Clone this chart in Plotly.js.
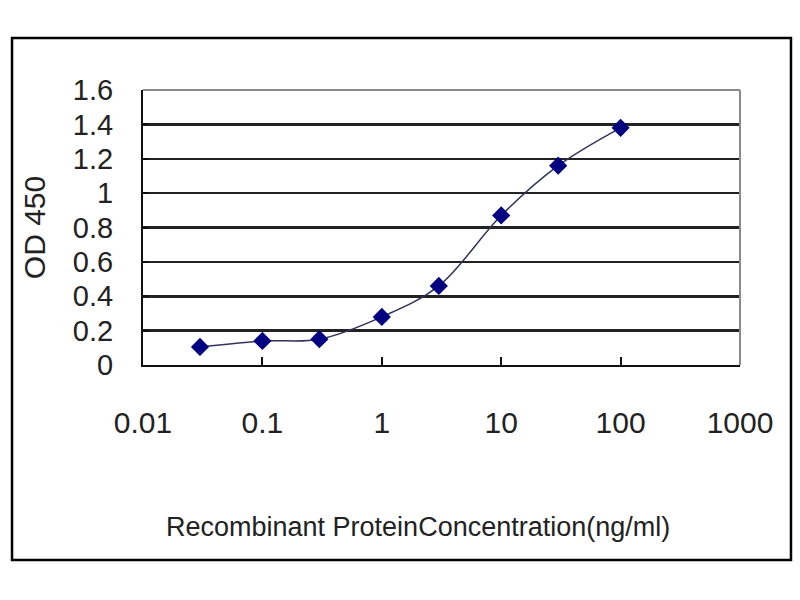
<!DOCTYPE html>
<html>
<head>
<meta charset="utf-8">
<script src="https://cdn.plot.ly/plotly-3.0.1.min.js"></script>
<style>html,body{margin:0;padding:0;background:#fff;}#chart{width:800px;height:600px;}</style>
</head>
<body>
<div id="chart"></div>
<script>
// Data
var concentration = [0.03, 0.1, 0.3, 1, 3, 10, 30, 100];
var od450 = [0.105, 0.14, 0.15, 0.28, 0.46, 0.87, 1.16, 1.38];
var xTickValues = [0.01, 0.1, 1, 10, 100, 1000];
var xTickLabels = ["0.01", "0.1", "1", "10", "100", "1000"];
var xTitle = "Recombinant ProteinConcentration(ng/ml)";
var yTitle = "OD 450";

var FONT = "Liberation Sans, Arial, sans-serif";

var trace = {
  x: concentration,
  y: od450,
  type: "scatter",
  mode: "lines+markers",
  line: {shape: "spline", smoothing: 1, color: "#33335a", width: 1.5},
  marker: {symbol: "diamond", size: 14, color: "#000080"},
  hoverinfo: "x+y"
};

var layout = {
  width: 800, height: 600,
  paper_bgcolor: "#ffffff", plot_bgcolor: "#ffffff",
  margin: {l: 143, r: 60, t: 90, b: 235},
  showlegend: false,
  font: {family: FONT, color: "#1a1a1a"},
  xaxis: {
    type: "log",
    range: [-2, 3],
    tickvals: xTickValues,
    ticktext: xTickLabels,
    ticks: "inside", ticklen: 8, tickwidth: 2, tickcolor: "#111",
    showline: true, linecolor: "#111", linewidth: 2,
    showgrid: false, zeroline: false,
    tickfont: {family: FONT, size: 30, color: "#222"},
    ticklabelstandoff: 30,
    automargin: false
  },
  yaxis: {
    range: [0, 1.6],
    dtick: 0.2,
    tick0: 0,
    ticks: "inside", ticklen: 6, tickwidth: 2, tickcolor: "#111",
    showline: true, linecolor: "#111", linewidth: 2,
    showgrid: true, gridcolor: "#222", gridwidth: 2.5,
    zeroline: false,
    tickfont: {family: FONT, size: 29, color: "#222"},
    ticklabelstandoff: 22,
    automargin: false,
    title: {text: yTitle, font: {family: FONT, size: 30, color: "#222"}, standoff: 18}
  },
  annotations: [
    {text: xTitle, xref: "paper", yref: "paper", x: 0.4606, y: -0.589,
     xanchor: "center", yanchor: "middle", showarrow: false,
     font: {family: FONT, size: 27, color: "#222"}}
  ],
  shapes: [
    // outer frame of the figure
    {type: "rect", xref: "paper", yref: "paper", x0: -0.2194, x1: 1.0854, y0: -0.709, y1: 1.189,
     line: {color: "#000", width: 2.5}, fillcolor: "rgba(0,0,0,0)", layer: "below"},
    // plot area border (top / right in grey)
    {type: "line", xref: "paper", yref: "paper", x0: 0, x1: 1, y0: 1, y1: 1, line: {color: "#8a8a8a", width: 2}},
    {type: "line", xref: "paper", yref: "paper", x0: 1, x1: 1, y0: 0, y1: 1, line: {color: "#8a8a8a", width: 2}}
  ]
};

Plotly.newPlot("chart", [trace], layout, {displayModeBar: false, staticPlot: true});
</script>
</body>
</html>
